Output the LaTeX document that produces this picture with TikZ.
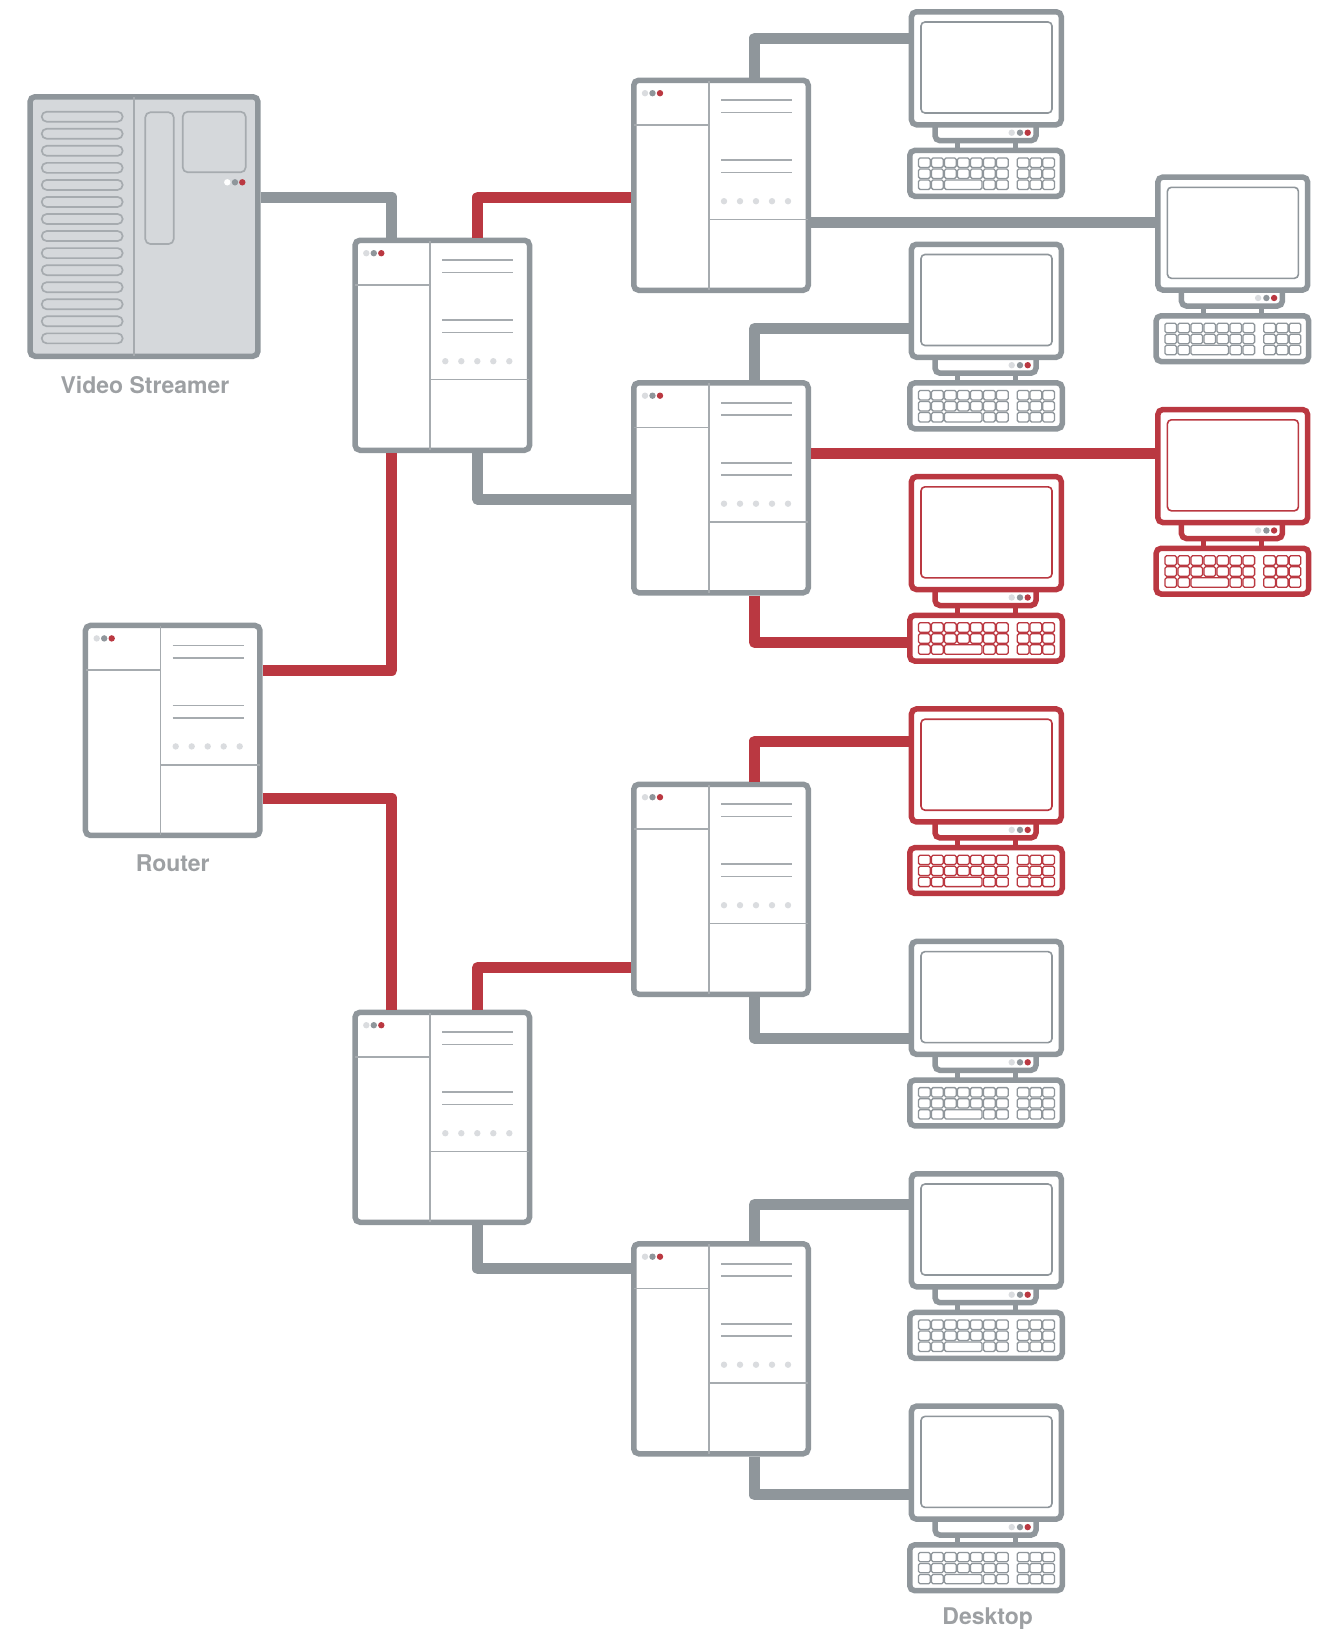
\documentclass[tikz,border=0pt]{standalone}
\usepackage{fontspec}
\setmainfont{TeX Gyre Heros}
\usepackage{xcolor}
\usetikzlibrary{positioning,calc}

\definecolor{framegray}{HTML}{8F969B}
\definecolor{thingray}{HTML}{A6ABAF}
\definecolor{dotlight}{HTML}{DADCDF}
\definecolor{alertred}{HTML}{BA3841}
\definecolor{panelgray}{HTML}{D5D8DB}
\definecolor{labelgray}{HTML}{9DA0A3}

\tikzset{
  devframe/.style={draw=framegray, fill=white, line width=5.5pt, rounded corners=5pt, inner sep=0pt},
  thinline/.style={draw=thingray, line width=1.7pt},
  wiregray/.style={draw=framegray, line width=11pt, line join=round},
  wirered/.style={draw=alertred, line width=11pt, line join=round},
  devlabel/.style={text=labelgray, font=\fontsize{23}{28}\selectfont\bfseries, anchor=base, inner sep=0pt}
}

% name, x, y of the top left corner
\newcommand{\switchbox}[3]{
  \begin{scope}[shift={(#2,#3)}]
    \node[devframe, anchor=north west, minimum width=174.5pt, minimum height=210pt] (#1) at (0,0) {};
    \draw[thinline] (77.7,3) -- (77.7,212.5);
    \draw[thinline] (3,47.6) -- (77.7,47.6);
    \draw[thinline] (77.7,142) -- (177,142);
    \foreach \ly in {22.7,35,82.7,95}
      \draw[thinline] (90,\ly) -- (161,\ly);
    \foreach \dx in {93,109,125,141,157}
      \fill[dotlight] (\dx,123.7) circle (3.2pt);
    \fill[dotlight] (14,15.7) circle (3.2pt);
    \fill[framegray] (21.5,15.7) circle (3.2pt);
    \fill[alertred] (29,15.7) circle (3.2pt);
  \end{scope}
}

% name, x, y of the top left corner of the screen, colour
\newcommand{\monitorbox}[4]{
  \begin{scope}[shift={(#2,#3)}]
    % stand
    \draw[#4, line width=5.5pt, fill=white, rounded corners=5pt] (25,105) -- (25,130) -- (126,130) -- (126,105);
    \draw[#4, line width=5pt] (47,130) -- (47,140) (105,130) -- (105,140);
    % screen
    \node[devframe, draw=#4, anchor=north west, minimum width=149.8pt, minimum height=113pt] (#1) at (-1.3,-1.7) {};
    \draw[#4, line width=1.6pt, rounded corners=4pt] (11,11.3) rectangle (142,102.3);
    \fill[dotlight] (101.7,122) circle (3.2pt);
    \fill[framegray] (110,122) circle (3.2pt);
    \fill[alertred] (117.7,122) circle (3.2pt);
    % keyboard
    \node[devframe, draw=#4, anchor=north west, minimum width=152.5pt, minimum height=45.8pt] (#1k) at (-3,137) {};
    \begin{scope}[#4, line width=1.3pt, rounded corners=1.5pt]
      \foreach \ky in {147.3,158.3} {
        \foreach \kn in {0,...,6}
          \draw (8.5+13*\kn,\ky) rectangle ++(11.7,9.4);
        \foreach \kn in {0,1,2}
          \draw (107.3+12.7*\kn,\ky) rectangle ++(11.7,9.4);
      }
      \foreach \kx in {8.5,21.5,73.5,86.5}
        \draw (\kx,169.3) rectangle ++(11.7,9.4);
      \draw (34.5,169.3) rectangle ++(37.5,9.4);
      \foreach \kn in {0,1,2}
        \draw (107.3+12.7*\kn,169.3) rectangle ++(11.7,9.4);
    \end{scope}
  \end{scope}
}

\begin{document}
\begin{tikzpicture}[x=1pt, y=-1pt]
  \useasboundingbox (0,0) rectangle (1335,1630);

  % Video streamer
  \node[devframe, fill=panelgray, anchor=north west, minimum width=227.9pt, minimum height=259.5pt] (streamer) at (27.3,94) {};
  \draw[thinline] (134,97) -- (134,356);
  \foreach \sn in {0,...,13}
    \draw[thinline, rounded corners=5pt] (41.7,111.7+17.05*\sn) rectangle ++(81,10);
  \draw[thinline, rounded corners=5pt] (145.3,112.3) rectangle (173.7,244);
  \draw[thinline, rounded corners=5pt] (182.7,111.7) rectangle (245.7,172.3);
  \fill[white] (227.3,182.3) circle (3.2pt);
  \fill[framegray] (235,182.3) circle (3.2pt);
  \fill[alertred] (242.3,182.3) circle (3.2pt);
  \node[devlabel] (streamerlabel) at (145,393.3) {Video Streamer};

  % Router and switches
  \switchbox{router}{82.7}{622.7}
  \node[devlabel] (routerlabel) at (172.7,871.5) {Router};
  \switchbox{swA}{352.3}{237.5}
  \switchbox{swB}{352.3}{1009.5}
  \switchbox{swOne}{631}{77.5}
  \switchbox{swTwo}{631}{380}
  \switchbox{swThree}{631}{781.5}
  \switchbox{swFour}{631}{1241}

  % Desktops
  \monitorbox{monOne}{910}{10.7}{framegray}
  \monitorbox{monTwo}{910}{243.2}{framegray}
  \monitorbox{monThree}{910}{475.5}{alertred}
  \monitorbox{monFour}{910}{707.9}{alertred}
  \monitorbox{monFive}{910}{940.3}{framegray}
  \monitorbox{monSix}{910}{1172.7}{framegray}
  \monitorbox{monSeven}{910}{1405.1}{framegray}
  \monitorbox{monEast}{1156.4}{176}{framegray}
  \monitorbox{monWest}{1156.4}{408.5}{alertred}
  \node[devlabel] (desktoplabel) at (987.7,1624.5) {Desktop};

  % Connections
  \draw[wiregray] ([yshift=29.3pt]streamer.east) -| ([xshift=-50.6pt]swA.north);
  \draw[wirered] ([xshift=35.5pt]swA.north) |- ([yshift=-12pt]swOne.west);
  \draw[wiregray] ([xshift=35.5pt]swA.south) |- ([yshift=-11.5pt]swTwo.west);
  \draw[wirered] ([xshift=-50.6pt]swA.south) |- ([yshift=60pt]router.east);
  \draw[wirered] ([yshift=-67.7pt]router.east) -| ([xshift=-50.6pt]swB.north);
  \draw[wirered] ([xshift=35.5pt]swB.north) |- ([yshift=-78.2pt]swThree.west);
  \draw[wiregray] ([xshift=35.5pt]swB.south) |- ([yshift=80pt]swFour.west);
  \draw[wiregray] ([xshift=33.5pt]swOne.north) |- ([yshift=30pt]monOne.west);
  \draw[wiregray] ([yshift=-37pt]swOne.east) -- ([yshift=11.3pt]monEast.west);
  \draw[wiregray] ([xshift=33.5pt]swTwo.north) |- ([yshift=-27.7pt]monTwo.west);
  \draw[wirered] ([yshift=34pt]swTwo.east) -- ([yshift=12.3pt]monWest.west);
  \draw[wirered] ([xshift=33.5pt]swTwo.south) |- ([yshift=-4.3pt]monThreek.west);
  \draw[wirered] ([xshift=33.5pt]swThree.north) |- ([yshift=24.2pt]monFour.west);
  \draw[wiregray] ([xshift=33.5pt]swThree.south) |- ([yshift=-40.2pt]monFive.west);
  \draw[wiregray] ([xshift=33.5pt]swFour.north) |- ([yshift=25.8pt]monSix.west);
  \draw[wiregray] ([xshift=33.5pt]swFour.south) |- ([yshift=-32.3pt]monSeven.west);
\end{tikzpicture}
\end{document}
